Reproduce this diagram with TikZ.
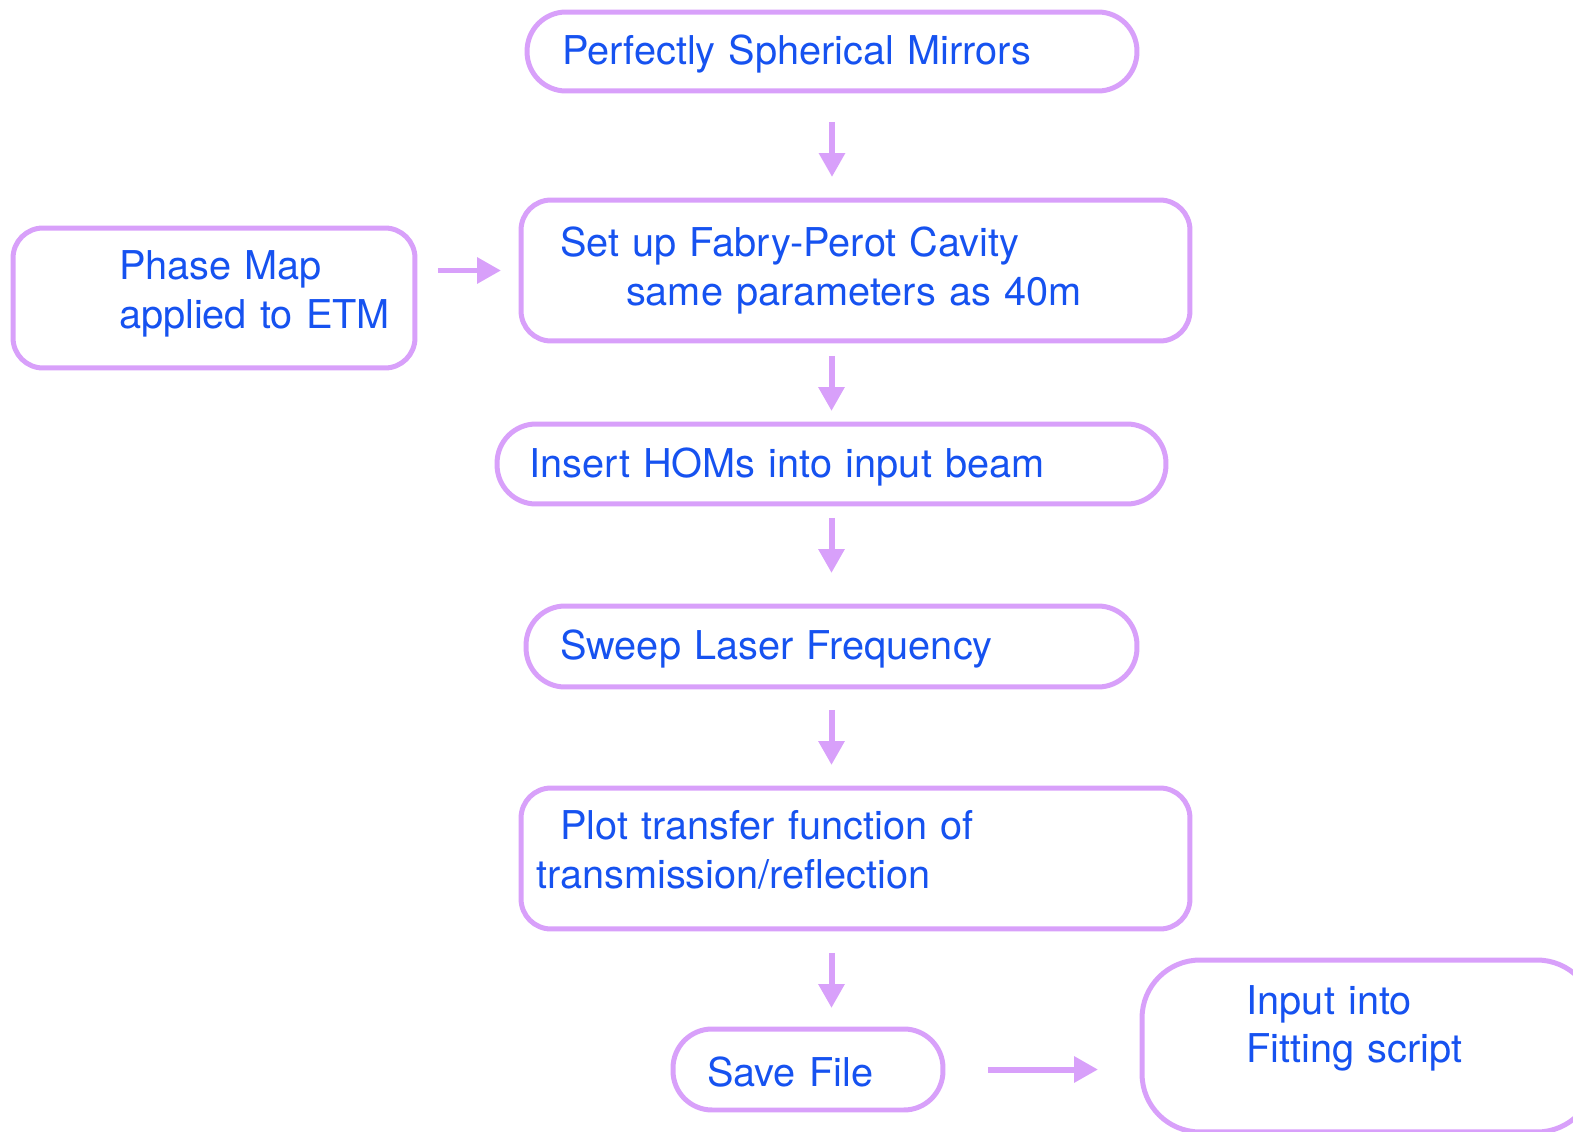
\documentclass[tikz,border=0pt]{standalone}
\usepackage{fontspec}
\setmainfont{TeX Gyre Heros}
\usetikzlibrary{arrows.meta}
\definecolor{lilac}{RGB}{216,160,250}
\definecolor{ink}{RGB}{22,82,240}
\tikzset{
  stage/.style={draw=lilac, line width=0.1cm, text=ink, align=left, inner sep=0pt, outer sep=0pt, font=\fontsize{22.6}{27.4}\selectfont},
  pill/.style={stage, rounded corners=0.78cm},
  card/.style={stage, rounded corners=0.6cm},
  flow/.style={draw=lilac, line width=0.12cm, -{Triangle[length=0.48cm, width=0.5cm]}},
}

\begin{document}
\begin{tikzpicture}[x=0.02cm, y=-0.02cm]
  \useasboundingbox (0,0) rectangle (1573,1132);
  \clip (0,0) rectangle (1573,1132);
  % main column
  \node[pill, text width=12.2cm, minimum height=1.58cm] (mirrors) at (832,51.5) {\hspace*{0.7cm}\rule{0pt}{0.7cm}Perfectly Spherical Mirrors};
  \node[card, text width=13.38cm, minimum height=2.82cm] (cavity) at (855.5,270.5) {\hspace*{0.78cm}Set up Fabry-Perot Cavity\\\hspace*{2.1cm}same parameters as 40m};
  \node[card, text width=8.04cm, minimum height=2.8cm] (phasemap) at (214,298) {\hspace*{2.12cm}Phase Map\\\hspace*{2.12cm}applied to ETM\rule[-0.34cm]{0pt}{0.34cm}};
  \node[pill, text width=13.38cm, minimum height=1.6cm] (homs) at (831.5,464) {\hspace*{0.65cm}\rule{0pt}{0.7cm}Insert HOMs into input beam};
  \node[pill, text width=12.22cm, minimum height=1.62cm] (sweep) at (831.5,646.5) {\hspace*{0.68cm}\rule{0pt}{0.7cm}Sweep Laser Frequency};
  \node[card, text width=13.38cm, minimum height=2.82cm] (plot) at (855.5,858.5) {\hspace*{0.78cm}Plot transfer function of\\\hspace*{0.3cm}transmission/reflection\rule[-0.36cm]{0pt}{0.36cm}};
  \node[pill, text width=5.4cm, minimum height=1.62cm] (save) at (808,1069.5) {\hspace*{0.68cm}\rule{0pt}{0.7cm}Save File};
  \node[stage, rounded corners=1.16cm, text width=9.06cm, minimum height=3.44cm] (fitting) at (1368.5,1046) {\hspace*{2.09cm}Input into\\\hspace*{2.09cm}Fitting script\rule[-0.88cm]{0pt}{0.88cm}};
  % arrows
  \draw[flow, shorten <=0.62cm, shorten >=0.46cm] (mirrors.south) -- (mirrors.south |- cavity.north);
  \draw[flow, shorten <=0.46cm, shorten >=0.4cm] (phasemap.east |- cavity.west) -- (cavity.west);
  \draw[flow, shorten <=0.3cm, shorten >=0.26cm] (homs.north |- cavity.south) -- (homs.north);
  \draw[flow, shorten <=0.28cm, shorten >=0.66cm] (homs.south) -- (homs.south |- sweep.north);
  \draw[flow, shorten <=0.46cm, shorten >=0.46cm] (sweep.south) -- (sweep.south |- plot.north);
  \draw[flow, shorten <=0.48cm, shorten >=0.42cm] (sweep.south |- plot.south) -- (sweep.south |- save.north);
  \draw[flow, shorten <=0.9cm, shorten >=0.88cm] (save.east) -- (save.east -| fitting.west);
\end{tikzpicture}
\end{document}
